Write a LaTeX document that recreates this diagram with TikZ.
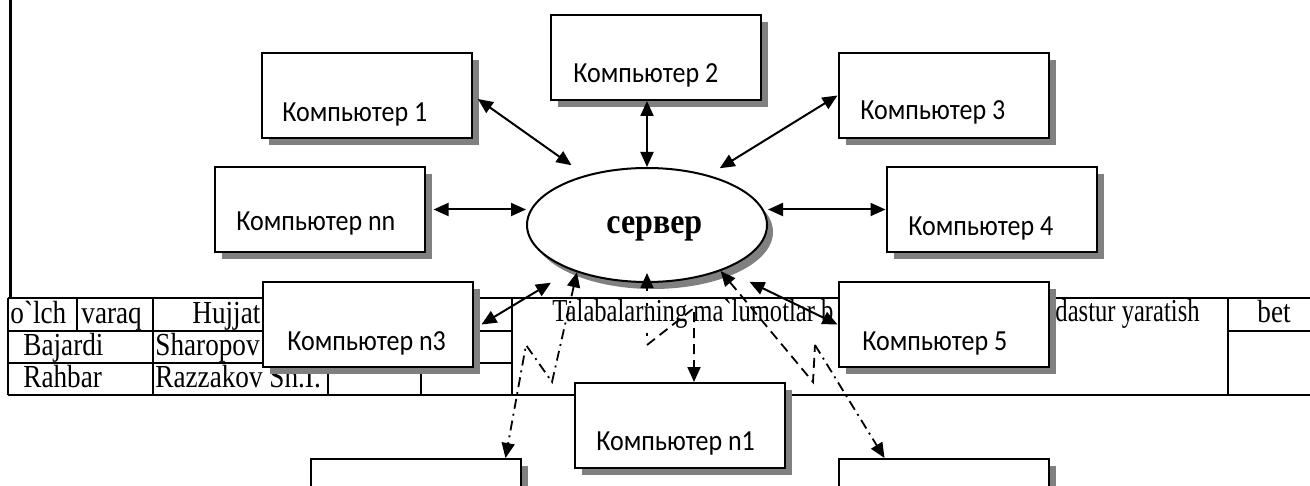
\documentclass[tikz,border=0pt]{standalone}
\usepackage{fontspec}
\setmainfont{Liberation Serif}
\newfontfamily\boxfont{Carlito}
\usepackage{tikz}
\usetikzlibrary{positioning, arrows.meta, shapes.geometric, shadows}
\newcommand{\shadecolor}{black!50}
\newcommand{\gr}{\textasciigrave}
\newcommand{\tall}[1]{\scalebox{1}[1.18]{#1}}
\newcommand{\boxtall}[1]{\scalebox{1}[1.12]{#1}}

\begin{document}
\begin{tikzpicture}[
      % GLOBAL CFG
      x=0.5pt, y=-0.5pt,
      >={Triangle[length=7.5pt,width=6.5pt]},
      % Styles
      comp/.style={% For computers
        rectangle,
        draw,
        line width=1pt,
        fill=white,
        minimum width=105pt,
        minimum height=42.5pt,
        inner sep=0pt,
        drop shadow={shadow xshift=3.5pt, shadow yshift=-3.5pt, fill=\shadecolor, opacity=1}
      },
      server/.style={% For the server
        ellipse,
        draw,
        line width=1pt,
        fill=white,
        minimum width=120pt,
        minimum height=57pt,
        inner sep=0pt,
        drop shadow={shadow xshift=3pt, shadow yshift=-3.5pt, fill=\shadecolor, opacity=1}
      },
      lbl/.style={% Text in the boxes
        font=\boxfont\fontsize{13}{15}\selectfont,
        anchor=base west,
        inner sep=0pt
      },
      cell/.style={% Text in the title block
        font=\fontsize{13.6}{15}\selectfont,
        anchor=base west,
        inner sep=0pt
      },
      tab/.style={line width=1pt},
      link/.style={% Solid two way links
        line width=1pt,
        <->
      },
      wire/.style={% dashed links
        line width=0.9pt,
        dash pattern=on 5pt off 3pt
      },
      wiredot/.style={% dash dot links
        line width=0.9pt,
        dash pattern=on 5pt off 2.5pt on 1pt off 2.5pt
      },
      sparse/.style={% dotted links
        line width=0.9pt,
        dash pattern=on 1.5pt off 6pt
      }
      ]

      \clip (0,0) rectangle (1310,486);

      % Title block of the page
      \draw[line width=1.5pt] (10,0) -- (10,298);
      \draw[tab, line width=1.2pt] (8,298) -- (1310,298) (8,395) -- (1310,395);
      \draw[tab] (8,331) -- (512,331) (8,363) -- (512,363) (1228,331) -- (1310,331);
      \draw[tab] (8,298) -- (8,395) (77,298) -- (77,331) (153,298) -- (153,395)
        (328,298) -- (328,395) (421,298) -- (421,395) (512,298) -- (512,395)
        (1228,298) -- (1228,395);
      \node[cell] (olch) at (10,323) {\tall{o\gr lch}};
      \node[cell] (varaq) at (81,323) {\tall{varaq}};
      \node[cell] (hujjat) at (192,323) {\tall{Hujjat}};
      \node[cell] (bajardi) at (23,355) {\tall{Bajardi}};
      \node[cell] (sharopov) at (155,355) {\tall{Sharopov}};
      \node[cell] (rahbar) at (23,387) {\tall{Rahbar}};
      \node[cell] (razzakov) at (155,387) {\tall{Razzakov Sh.I.}};
      \node[cell, font=\fontsize{12.3}{15}\selectfont] (title) at (552,321) {\scalebox{1}[1.3]{Talabalarning ma\gr lumotlar b}};
      \node[cell, font=\fontsize{12.3}{15}\selectfont, anchor=base east] (title2) at (1200,321) {\scalebox{1}[1.3]{dastur yaratish}};
      \node[cell, anchor=base] (bet) at (1274,322) {\tall{bet}};

      % Computers round the server
      \node[comp] (c1) at (367,95.5) {};
      \node[lbl] (c1t) at (282,122) {\boxtall{Компьютер 1}};
      \node[comp] (c2) at (656,57.5) {};
      \node[lbl] (c2t) at (573,83) {\boxtall{Компьютер 2}};
      \node[comp] (c3) at (943.5,95.5) {};
      \node[lbl] (c3t) at (860,120) {\boxtall{Компьютер 3}};
      \node[comp] (cnn) at (319.5,209.5) {};
      \node[lbl] (cnnt) at (236,230) {\boxtall{Компьютер nn}};
      \node[comp] (c4) at (991.5,209.5) {};
      \node[lbl] (c4t) at (908,235) {\boxtall{Компьютер 4}};
      \node[comp] (cn3) at (367.5,324.5) {};
      \node[lbl] (cn3t) at (287,350) {\boxtall{Компьютер n3}};
      \node[comp] (c5) at (943.5,324.5) {};
      \node[lbl] (c5t) at (862,350) {\boxtall{Компьютер 5}};
      \node[comp] (cn1) at (679.5,425.5) {};
      \node[lbl] (cn1t) at (596,450) {\boxtall{Компьютер n1}};
      \node[comp] (cbl) at (415.5,501.5) {};
      \node[comp] (cbr) at (943.5,501.5) {};

      % The server
      \node[server] (srv) at (647,225) {};
      \node[font=\bfseries\fontsize{16}{18}\selectfont, anchor=base west, inner sep=0pt] (srvt) at (606,234) {\boxtall{сервер}};

      % Solid links
      \draw[link, shorten <=3pt, shorten >=8.5pt] (c1.east) -- (srv.141);
      \draw[link] (srv.north) -- (srv.north |- c2.south);
      \draw[link, shorten >=6.5pt] (c3.west) -- (srv.39);
      \draw[link] ([xshift=4pt]cnn.east) -- (cnn.east -| srv.west);
      \draw[link] (c4.west) -- (c4.west -| srv.east);
      \draw[link, shorten >=12pt] ([xshift=4pt]cn3.east) -- (srv.211);
      \draw[link, shorten <=14pt] (srv.-30) -- (c5.west);

      % Broken links
      \coordinate (lz1) at (552,382);
      \coordinate (lz2) at (526,345);
      \draw[wiredot, <->] (srv.-146) -- (lz1) -- (lz2) -- ([xshift=-8pt]cbl.north east);

      \coordinate (mz1) at (647,345);
      \coordinate (mz2) at (694,308);
      \draw[sparse, <-] ([yshift=5pt]srv.south) -- (mz1);
      \draw[wire, ->] (mz1) -- (mz2) -- (mz2 |- cn1.north);

      \coordinate (rz1) at (813,382);
      \coordinate (rz2) at (815,345);
      \draw[wire, <-] (srv.-32) -- (rz1) -- (rz2);
      \draw[wiredot, ->] (rz2) -- ([xshift=23.5pt]cbr.north west);

    \end{tikzpicture}
\end{document}
